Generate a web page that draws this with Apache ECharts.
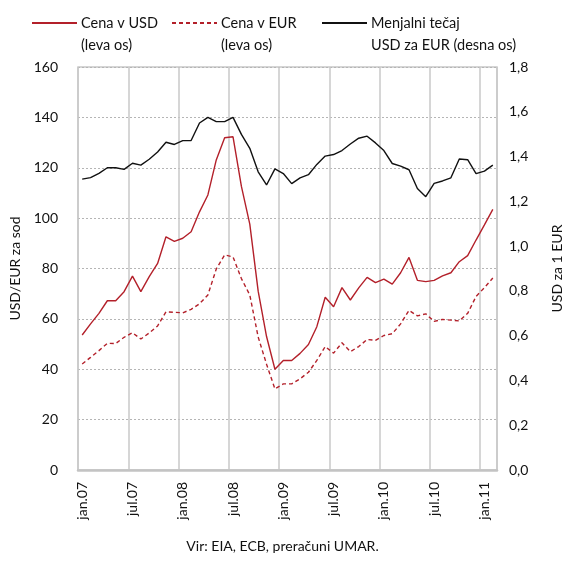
<!DOCTYPE html>
<html>
<head>
<meta charset="utf-8">
<script src="https://cdn.jsdelivr.net/npm/echarts@6/dist/echarts.min.js"></script>
<style>
html,body{margin:0;padding:0;background:#fff;}
#c{width:565px;height:564px;}
</style>
</head>
<body>
<div id="c"></div>
<script>
var months = ['jan','feb','mar','apr','maj','jun','jul','avg','sep','okt','nov','dec'];
var years = ['07','08','09','10','11'];
var categories = [];
for (var yi = 0; yi < years.length; yi++) {
  for (var mi = 0; mi < 12; mi++) {
    if (categories.length < 50) categories.push(months[mi] + '.' + years[yi]);
  }
}
var priceUSD = [
  53.6, 58.0, 62.2, 67.2, 67.2, 70.8, 77.0, 70.8, 76.8, 82.0, 92.6, 90.8,
  92.0, 94.6, 102.5, 109.2, 123.1, 131.9, 132.3, 112.6, 97.6, 71.0, 53.0, 40.0,
  43.5, 43.5, 46.3, 49.8, 56.9, 68.6, 64.8, 72.4, 67.5, 72.3, 76.5, 74.4,
  75.8, 73.8, 78.3, 84.4, 75.3, 74.8, 75.3, 77.1, 78.3, 82.7, 85.1, 91.3,
  97.3, 103.5
];
var priceEUR = [
  42.1, 44.7, 47.4, 50.3, 50.2, 52.7, 54.5, 52.0, 54.4, 57.2, 62.8, 62.6,
  62.4, 63.8, 66.0, 69.5, 79.8, 85.4, 84.6, 76.0, 69.5, 52.8, 42.0, 32.2,
  34.2, 34.2, 36.2, 38.8, 43.5, 49.0, 46.4, 50.5, 47.0, 49.0, 51.8, 51.5,
  53.4, 54.1, 58.0, 63.4, 61.2, 62.0, 59.0, 59.8, 59.5, 59.2, 62.2, 68.9,
  72.4, 76.2
];
var rateUSDEUR = [
  1.299, 1.306, 1.325, 1.350, 1.350, 1.343, 1.370, 1.362, 1.388, 1.420, 1.464, 1.454,
  1.471, 1.472, 1.550, 1.575, 1.556, 1.556, 1.575, 1.499, 1.437, 1.332, 1.273, 1.345,
  1.324, 1.279, 1.305, 1.319, 1.365, 1.402, 1.409, 1.427, 1.456, 1.482, 1.491, 1.461,
  1.427, 1.369, 1.357, 1.341, 1.257, 1.221, 1.280, 1.291, 1.305, 1.389, 1.386, 1.324,
  1.335, 1.362
];
var seriesNames = ['Cena v USD', 'Cena v EUR', 'Menjalni tečaj'];
var legendTexts = [' \nCena v USD\n(leva os)', ' \nCena v EUR\n(leva os)', ' \nMenjalni tečaj\nUSD za EUR (desna os)'];
var leftTicks = [0, 160, 20];
var rightTicks = [0, 1.8, 0.2];

var FONT = 'Lato';
var RED = '#b3202a';
var chart = echarts.init(document.getElementById('c'));

function mkLegend(i, left) {
  return {
    data: [seriesNames[i]],
    left: left, top: -15,
    itemWidth: 45, itemHeight: 10, itemGap: 0,
    itemStyle: { opacity: 0 },
    formatter: function () { return legendTexts[i]; },
    textStyle: { fontFamily: FONT, fontSize: 14.5, color: '#111', lineHeight: 22, padding: [0, 0, 0, -1] },
    selectedMode: false
  };
}

chart.setOption({
  animation: false,
  textStyle: { fontFamily: FONT },
  legend: [mkLegend(0, 26), mkLegend(1, 166), mkLegend(2, 316)],
  title: {
    text: 'Vir: EIA, ECB, preračuni UMAR.',
    left: 'center', bottom: 6,
    textStyle: { fontFamily: FONT, fontSize: 14, fontWeight: 'normal', color: '#111' }
  },
  grid: { left: 78, right: 68, top: 67, bottom: 94, show: true, borderColor: '#c8c8c8', borderWidth: 1.5,
    containLabel: false, outerBoundsMode: 'none' },
  xAxis: {
    type: 'category', data: categories, boundaryGap: true,
    axisLine: { lineStyle: { color: '#c3c3c3', width: 2.5 } },
    axisTick: { show: false, interval: 5 },
    axisLabel: { interval: 5, rotate: 90, margin: 12, fontFamily: FONT, fontSize: 14, color: '#111' },
    splitLine: { show: true, interval: 5, lineStyle: { color: '#c8c8c8', width: 1.5 } }
  },
  yAxis: [
    {
      type: 'value', min: leftTicks[0], max: leftTicks[1], interval: leftTicks[2],
      name: 'USD/EUR za sod', nameLocation: 'middle', nameGap: 52, nameRotate: 90,
      nameTextStyle: { fontFamily: FONT, fontSize: 14, color: '#111' },
      axisLine: { show: false }, axisTick: { show: false },
      axisLabel: { margin: 20, fontFamily: FONT, fontSize: 14, color: '#111' },
      splitLine: { show: true, lineStyle: { color: '#b5b5b5', type: [2, 2], width: 1 } }
    },
    {
      type: 'value', min: rightTicks[0], max: rightTicks[1], interval: rightTicks[2],
      name: 'USD za 1 EUR', nameLocation: 'middle', nameGap: 53, nameRotate: 90,
      nameTextStyle: { fontFamily: FONT, fontSize: 14, color: '#111' },
      axisLine: { show: false }, axisTick: { show: false },
      axisLabel: { margin: 12, fontFamily: FONT, fontSize: 14, color: '#111',
        formatter: function (v) { return v.toFixed(1).replace('.', ','); } },
      splitLine: { show: false }
    }
  ],
  series: [
    { name: seriesNames[0], type: 'line', yAxisIndex: 0, data: priceUSD, symbol: 'none',
      lineStyle: { color: RED, width: 1.4 }, itemStyle: { color: RED } },
    { name: seriesNames[1], type: 'line', yAxisIndex: 0, data: priceEUR, symbol: 'none',
      lineStyle: { color: RED, width: 1.4, type: [4, 3] }, itemStyle: { color: RED } },
    { name: seriesNames[2], type: 'line', yAxisIndex: 1, data: rateUSDEUR, symbol: 'none',
      lineStyle: { color: '#111', width: 1.4 }, itemStyle: { color: '#111' } }
  ]
});
</script>
</body>
</html>
